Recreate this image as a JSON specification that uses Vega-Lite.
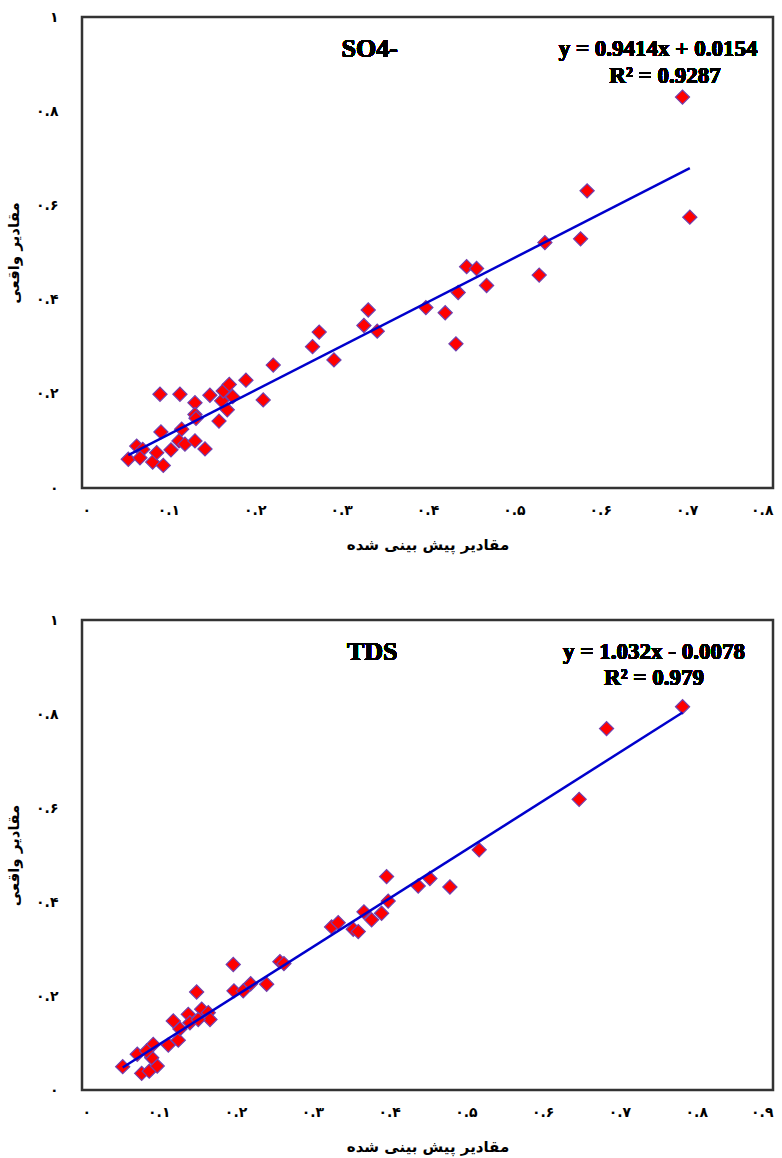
{
  "$schema": "https://vega.github.io/schema/vega-lite/v6.json",
  "background": "white",
  "padding": {"left": 5, "top": 8, "right": 2, "bottom": 4},
  "bounds": "flush",
  "spacing": 132,
  "datasets": {
    "so4": [
      {"predicted": 0.0536, "actual": 0.061},
      {"predicted": 0.0633, "actual": 0.089},
      {"predicted": 0.0703, "actual": 0.082},
      {"predicted": 0.0671, "actual": 0.064},
      {"predicted": 0.0818, "actual": 0.055},
      {"predicted": 0.0865, "actual": 0.075},
      {"predicted": 0.0941, "actual": 0.048},
      {"predicted": 0.0914, "actual": 0.119},
      {"predicted": 0.0903, "actual": 0.199},
      {"predicted": 0.103, "actual": 0.081},
      {"predicted": 0.1123, "actual": 0.100},
      {"predicted": 0.1134, "actual": 0.199},
      {"predicted": 0.1154, "actual": 0.125},
      {"predicted": 0.1192, "actual": 0.093},
      {"predicted": 0.1308, "actual": 0.100},
      {"predicted": 0.1308, "actual": 0.181},
      {"predicted": 0.1308, "actual": 0.156},
      {"predicted": 0.132, "actual": 0.148},
      {"predicted": 0.1424, "actual": 0.083},
      {"predicted": 0.1481, "actual": 0.197},
      {"predicted": 0.1586, "actual": 0.142},
      {"predicted": 0.1617, "actual": 0.185},
      {"predicted": 0.1635, "actual": 0.206},
      {"predicted": 0.1682, "actual": 0.166},
      {"predicted": 0.1705, "actual": 0.220},
      {"predicted": 0.1744, "actual": 0.194},
      {"predicted": 0.1898, "actual": 0.229},
      {"predicted": 0.2098, "actual": 0.187},
      {"predicted": 0.2214, "actual": 0.261},
      {"predicted": 0.2669, "actual": 0.300},
      {"predicted": 0.2746, "actual": 0.331},
      {"predicted": 0.2917, "actual": 0.272},
      {"predicted": 0.3264, "actual": 0.345},
      {"predicted": 0.3314, "actual": 0.378},
      {"predicted": 0.3418, "actual": 0.333},
      {"predicted": 0.3981, "actual": 0.383},
      {"predicted": 0.4205, "actual": 0.372},
      {"predicted": 0.4329, "actual": 0.306},
      {"predicted": 0.4355, "actual": 0.415},
      {"predicted": 0.4453, "actual": 0.470},
      {"predicted": 0.4568, "actual": 0.466},
      {"predicted": 0.4684, "actual": 0.430},
      {"predicted": 0.5293, "actual": 0.452},
      {"predicted": 0.5359, "actual": 0.521},
      {"predicted": 0.5772, "actual": 0.529},
      {"predicted": 0.5848, "actual": 0.631},
      {"predicted": 0.6952, "actual": 0.830},
      {"predicted": 0.7037, "actual": 0.575}
    ],
    "tds": [
      {"predicted": 0.053, "actual": 0.0496},
      {"predicted": 0.072, "actual": 0.076},
      {"predicted": 0.0777, "actual": 0.0355},
      {"predicted": 0.0876, "actual": 0.040},
      {"predicted": 0.098, "actual": 0.051},
      {"predicted": 0.0908, "actual": 0.0687},
      {"predicted": 0.0928, "actual": 0.097},
      {"predicted": 0.0842, "actual": 0.083},
      {"predicted": 0.1124, "actual": 0.0957},
      {"predicted": 0.1254, "actual": 0.106},
      {"predicted": 0.1189, "actual": 0.147},
      {"predicted": 0.1276, "actual": 0.130},
      {"predicted": 0.1384, "actual": 0.161},
      {"predicted": 0.1406, "actual": 0.143},
      {"predicted": 0.1493, "actual": 0.2085},
      {"predicted": 0.1559, "actual": 0.172},
      {"predicted": 0.1645, "actual": 0.1645},
      {"predicted": 0.1667, "actual": 0.150},
      {"predicted": 0.1514, "actual": 0.150},
      {"predicted": 0.197, "actual": 0.267},
      {"predicted": 0.1979, "actual": 0.211},
      {"predicted": 0.210, "actual": 0.211},
      {"predicted": 0.2197, "actual": 0.226},
      {"predicted": 0.2405, "actual": 0.225},
      {"predicted": 0.2578, "actual": 0.273},
      {"predicted": 0.263, "actual": 0.269},
      {"predicted": 0.3251, "actual": 0.347},
      {"predicted": 0.3337, "actual": 0.356},
      {"predicted": 0.3533, "actual": 0.342},
      {"predicted": 0.3598, "actual": 0.337},
      {"predicted": 0.3672, "actual": 0.379},
      {"predicted": 0.3772, "actual": 0.362},
      {"predicted": 0.3902, "actual": 0.376},
      {"predicted": 0.3988, "actual": 0.402},
      {"predicted": 0.3967, "actual": 0.454},
      {"predicted": 0.4379, "actual": 0.434},
      {"predicted": 0.4531, "actual": 0.450},
      {"predicted": 0.4792, "actual": 0.432},
      {"predicted": 0.5173, "actual": 0.511},
      {"predicted": 0.6475, "actual": 0.6185},
      {"predicted": 0.6832, "actual": 0.769},
      {"predicted": 0.7822, "actual": 0.8155}
    ]
  },
  "config": {
    "view": {"stroke": "#333333", "strokeWidth": 2.5},
    "axis": {
      "grid": false,
      "domain": false,
      "ticks": false,
      "labelFont": "DejaVu Sans",
      "labelFontWeight": "bold",
      "labelFontSize": 14,
      "labelColor": "black",
      "titleFont": "DejaVu Sans",
      "titleFontWeight": "bold",
      "titleFontSize": 15,
      "titleColor": "black",
      "labelExpr": "replace(replace(replace(replace(replace(replace(replace(replace(replace(replace(format(datum.value,'.1~f'),'0','۰'),'1','۱'),'2','۲'),'3','۳'),'4','۴'),'5','۵'),'6','۶'),'7','۷'),'8','۸'),'9','۹')"
    },
    "axisX": {"labelPadding": 15, "titlePadding": 20, "labelFlush": true},
    "axisY": {"labelPadding": 24, "titlePadding": 14}
  },
  "vconcat": [
    {
      "width": 691,
      "height": 471,
      "data": {"name": "so4"},
      "layer": [
        {
          "mark": {"type": "point", "shape": "diamond", "filled": true, "fill": "#ff0000", "stroke": "#7040b0", "strokeWidth": 1.2, "size": 200, "opacity": 1},
          "encoding": {
            "x": {"field": "predicted", "type": "quantitative", "scale": {"domain": [0, 0.8], "nice": false}, "axis": {"values": [0, 0.1, 0.2, 0.3, 0.4, 0.5, 0.6, 0.7, 0.8], "title": "مقادیر پیش بینی شده"}},
            "y": {"field": "actual", "type": "quantitative", "scale": {"domain": [0, 1], "nice": false}, "axis": {"values": [0, 0.2, 0.4, 0.6, 0.8, 1], "title": "مقادیر واقعی"}}
          }
        },
        {
          "transform": [{"regression": "actual", "on": "predicted"}],
          "mark": {"type": "line", "color": "#0000cc", "strokeWidth": 2.5},
          "encoding": {
            "x": {"field": "predicted", "type": "quantitative"},
            "y": {"field": "actual", "type": "quantitative"}
          }
        },
        {
          "mark": {"type": "text", "font": "Liberation Serif", "fontWeight": "bold", "fontSize": 26, "color": "black"},
          "encoding": {
            "x": {"datum": 0.333},
            "y": {"datum": 0.932},
            "text": {"value": "SO4-"}
          }
        },
        {
          "mark": {"type": "text", "font": "Liberation Serif", "fontWeight": "bold", "fontSize": 23, "color": "black"},
          "encoding": {
            "x": {"datum": 0.667},
            "y": {"datum": 0.932},
            "text": {"value": "y = 0.9414x + 0.0154"}
          }
        },
        {
          "mark": {"type": "text", "font": "Liberation Serif", "fontWeight": "bold", "fontSize": 23, "color": "black"},
          "encoding": {
            "x": {"datum": 0.675},
            "y": {"datum": 0.875},
            "text": {"value": "R² = 0.9287"}
          }
        }
      ]
    },
    {
      "width": 691,
      "height": 470,
      "data": {"name": "tds"},
      "layer": [
        {
          "mark": {"type": "point", "shape": "diamond", "filled": true, "fill": "#ff0000", "stroke": "#7040b0", "strokeWidth": 1.2, "size": 200, "opacity": 1},
          "encoding": {
            "x": {"field": "predicted", "type": "quantitative", "scale": {"domain": [0, 0.9], "nice": false}, "axis": {"values": [0, 0.1, 0.2, 0.3, 0.4, 0.5, 0.6, 0.7, 0.8, 0.9], "title": "مقادیر پیش بینی شده"}},
            "y": {"field": "actual", "type": "quantitative", "scale": {"domain": [0, 1], "nice": false}, "axis": {"values": [0, 0.2, 0.4, 0.6, 0.8, 1], "title": "مقادیر واقعی"}}
          }
        },
        {
          "transform": [{"regression": "actual", "on": "predicted"}],
          "mark": {"type": "line", "color": "#0000cc", "strokeWidth": 2.5},
          "encoding": {
            "x": {"field": "predicted", "type": "quantitative"},
            "y": {"field": "actual", "type": "quantitative"}
          }
        },
        {
          "mark": {"type": "text", "font": "Liberation Serif", "fontWeight": "bold", "fontSize": 26, "color": "black"},
          "encoding": {
            "x": {"datum": 0.378},
            "y": {"datum": 0.932},
            "text": {"value": "TDS"}
          }
        },
        {
          "mark": {"type": "text", "font": "Liberation Serif", "fontWeight": "bold", "fontSize": 23, "color": "black"},
          "encoding": {
            "x": {"datum": 0.745},
            "y": {"datum": 0.932},
            "text": {"value": "y = 1.032x - 0.0078"}
          }
        },
        {
          "mark": {"type": "text", "font": "Liberation Serif", "fontWeight": "bold", "fontSize": 23, "color": "black"},
          "encoding": {
            "x": {"datum": 0.745},
            "y": {"datum": 0.876},
            "text": {"value": "R² = 0.979"}
          }
        }
      ]
    }
  ]
}
